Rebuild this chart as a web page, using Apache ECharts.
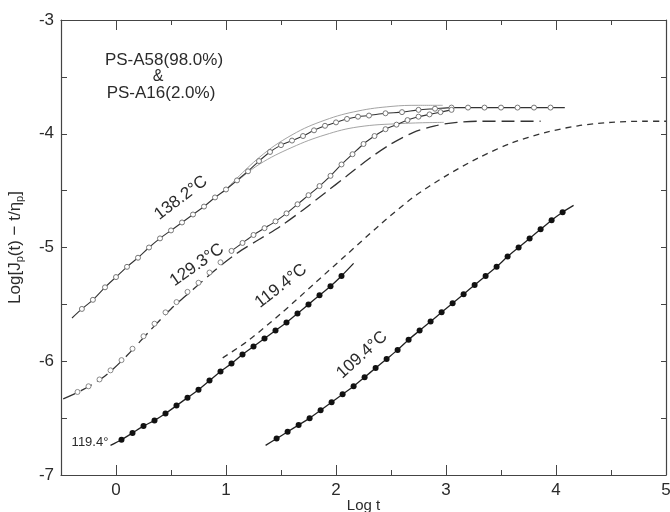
<!DOCTYPE html>
<html><head><meta charset="utf-8">
<script src="https://cdn.jsdelivr.net/npm/echarts@6/dist/echarts.min.js"></script>
<style>html,body{margin:0;padding:0;background:#fff}#c{width:670px;height:512px}</style>
</head><body><div id="c"></div>
<script>
// ---- data ----
const xTickLabels = [0, 1, 2, 3, 4, 5];
const yTickLabels = [-7, -6, -5, -4, -3];

// 138.2 °C : solid line, open circles
const start1382 = [-0.40, -5.62];
const end1382 = [4.08, -3.77];
const pts1382 = [[-0.31,-5.54],[-0.21,-5.46],[-0.10,-5.35],[0.00,-5.26],[0.10,-5.17],[0.20,-5.09],[0.30,-5.00],[0.40,-4.92],[0.50,-4.85],[0.60,-4.78],[0.70,-4.71],[0.80,-4.64],[0.90,-4.56],[1.00,-4.49],[1.10,-4.41],[1.20,-4.33],[1.30,-4.24],[1.40,-4.16],[1.50,-4.10],[1.60,-4.06],[1.70,-4.02],[1.80,-3.97],[1.90,-3.93],[2.00,-3.90],[2.10,-3.87],[2.20,-3.85],[2.30,-3.84],[2.45,-3.82],[2.60,-3.81],[2.75,-3.79],[2.90,-3.78],[3.05,-3.77],[3.20,-3.77],[3.35,-3.77],[3.50,-3.77],[3.65,-3.77],[3.80,-3.77],[3.95,-3.77]];
// thin companion curves near the 138.2 plateau
const upperThin = [[1.0,-4.49],[1.3,-4.21],[1.6,-4.01],[1.9,-3.88],[2.2,-3.80],[2.5,-3.76],[2.75,-3.75],[2.97,-3.75]];
const lowerThin = [[1.1,-4.42],[1.3,-4.27],[1.6,-4.12],[1.9,-4.01],[2.2,-3.94],[2.6,-3.91],[2.98,-3.90]];

// 129.3 °C : open circles (lower part on dashed line, upper part solid)
const pts1293Low = [[-0.35,-6.27],[-0.25,-6.22],[-0.15,-6.16],[-0.05,-6.08],[0.05,-5.99],[0.15,-5.89],[0.25,-5.78],[0.35,-5.67],[0.45,-5.57],[0.55,-5.48],[0.65,-5.39],[0.75,-5.31],[0.85,-5.22],[0.95,-5.13]];
const pts1293High = [[1.05,-5.03],[1.15,-4.96],[1.25,-4.89],[1.35,-4.83],[1.45,-4.77],[1.55,-4.70],[1.65,-4.62],[1.75,-4.54],[1.85,-4.46],[1.95,-4.37],[2.05,-4.27],[2.15,-4.18],[2.25,-4.09],[2.35,-4.02],[2.45,-3.96],[2.55,-3.92],[2.65,-3.88],[2.75,-3.85],[2.85,-3.83],[2.95,-3.81],[3.05,-3.79]];
// long-dash curve (129.3 region)
const longDash = [[-0.48,-6.33],[-0.3,-6.25],[-0.1,-6.13],[0.1,-5.95],[0.3,-5.74],[0.5,-5.54],[0.7,-5.37],[0.9,-5.20],[1.1,-5.05],[1.3,-4.93],[1.5,-4.81],[1.7,-4.67],[1.9,-4.52],[2.1,-4.37],[2.3,-4.22],[2.5,-4.09],[2.7,-3.99],[2.9,-3.93],[3.1,-3.90],[3.3,-3.89],[3.6,-3.89],[3.86,-3.89]];
// short-dash curve (119.4 region up to the plateau at 5)
const shortDash = [[0.97,-5.97],[1.2,-5.82],[1.5,-5.58],[1.8,-5.32],[2.1,-5.06],[2.4,-4.80],[2.7,-4.56],[3.0,-4.37],[3.3,-4.21],[3.6,-4.08],[3.9,-3.99],[4.2,-3.93],[4.5,-3.90],[4.8,-3.89],[5.0,-3.89]];

// 119.4 °C : solid line, filled circles
const start1194 = [-0.05, -6.74];
const end1194 = [2.16, -5.14];
const pts1194 = [[0.05,-6.69],[0.15,-6.63],[0.25,-6.57],[0.35,-6.52],[0.45,-6.46],[0.55,-6.39],[0.65,-6.32],[0.75,-6.25],[0.85,-6.17],[0.95,-6.09],[1.05,-6.02],[1.15,-5.94],[1.25,-5.87],[1.35,-5.80],[1.45,-5.73],[1.55,-5.66],[1.65,-5.58],[1.75,-5.50],[1.85,-5.42],[1.95,-5.34],[2.05,-5.25]];

// 109.4 °C : solid line, filled circles
const start1094 = [1.36, -6.74];
const end1094 = [4.16, -4.63];
const pts1094 = [[1.46,-6.68],[1.56,-6.62],[1.66,-6.56],[1.76,-6.50],[1.86,-6.43],[1.96,-6.36],[2.06,-6.29],[2.16,-6.22],[2.26,-6.14],[2.36,-6.06],[2.46,-5.98],[2.56,-5.90],[2.66,-5.81],[2.76,-5.73],[2.86,-5.65],[2.96,-5.57],[3.06,-5.49],[3.16,-5.41],[3.26,-5.33],[3.36,-5.25],[3.46,-5.17],[3.56,-5.08],[3.66,-5.00],[3.76,-4.92],[3.86,-4.84],[3.96,-4.76],[4.06,-4.69]];

// ---- chart ----
const FONT = '"Liberation Sans", Arial, sans-serif';
const INK = '#2b2b2b';
const chart = echarts.init(document.getElementById('c'), null, {renderer: 'canvas'});

function lineWith(startPt, pts, endPt) {
  return [{value: startPt, symbol: 'none'}].concat(pts.map(p => ({value: p}))).concat([{value: endPt, symbol: 'none'}]);
}
const axisLine = {show: true, onZero: false, lineStyle: {color: '#444', width: 1.2}};
const noLine = {show: false, onZero: false};
const fmtY = v => (Number.isInteger(v) ? ('-' + Math.abs(v)) : '');
const fmtX = v => (Number.isInteger(v) && v >= 0 ? String(v) : '');

const option = {
  animation: false,
  backgroundColor: '#fff',
  grid: {left: 61, right: 4, top: 20, bottom: 37, containLabel: false, outerBoundsMode: 'none'},
  xAxis: [
    {type: 'value', position: 'bottom', min: -0.5, max: 5, interval: 0.5,
     axisLine, splitLine: {show: false},
     axisTick: {show: true, inside: true, length: 5, lineStyle: {color: '#444'}},
     axisLabel: {formatter: fmtX, fontSize: 17, color: INK, fontFamily: FONT, margin: 7},
     name: 'Log t', nameLocation: 'middle', nameGap: 23, nameMoveOverlap: false,
     nameTextStyle: {fontSize: 15, color: INK, fontFamily: FONT}},
    {type: 'value', position: 'bottom', min: -0.5, max: 5,
     axisLine: noLine, splitLine: {show: false}, axisLabel: {show: false},
     axisTick: {show: true, inside: true, length: 10, customValues: xTickLabels, lineStyle: {color: '#444'}}},
    {type: 'value', position: 'top', min: -0.5, max: 5, interval: 0.5,
     axisLine, splitLine: {show: false}, axisLabel: {show: false},
     axisTick: {show: true, inside: true, length: 5, lineStyle: {color: '#444'}}},
    {type: 'value', position: 'top', min: -0.5, max: 5,
     axisLine: noLine, splitLine: {show: false}, axisLabel: {show: false},
     axisTick: {show: true, inside: true, length: 10, customValues: xTickLabels, lineStyle: {color: '#444'}}}
  ],
  yAxis: [
    {type: 'value', position: 'left', min: -7, max: -3, interval: 0.5,
     axisLine, splitLine: {show: false},
     axisTick: {show: true, inside: true, length: 6, lineStyle: {color: '#444'}},
     axisLabel: {formatter: fmtY, fontSize: 17, color: INK, fontFamily: FONT, margin: 7},
     name: 'Log[J{s|p}(t) − t/η{s|p}]', nameLocation: 'middle', nameGap: 36, nameRotate: 90,
     nameMoveOverlap: false,
     nameTextStyle: {fontSize: 17, color: INK, fontFamily: FONT,
       rich: {s: {fontSize: 11, color: INK, fontFamily: FONT, padding: [8, 0, 0, 0]}}}},
    {type: 'value', position: 'right', min: -7, max: -3, interval: 0.5,
     axisLine, splitLine: {show: false}, axisLabel: {show: false},
     axisTick: {show: true, inside: true, length: 5, lineStyle: {color: '#444'}}}
  ],
  series: [
    {type: 'line', name: 'longDash', data: longDash, smooth: 0.3, showSymbol: false,
     lineStyle: {color: '#333', width: 1.3, type: [13, 6]}},
    {type: 'line', name: 'shortDash', data: shortDash, smooth: 0.3, showSymbol: false,
     lineStyle: {color: '#333', width: 1.3, type: [6, 5]}},
    {type: 'line', name: 'upperThin', data: upperThin, smooth: 0.4, showSymbol: false,
     lineStyle: {color: '#999', width: 0.9}},
    {type: 'line', name: 'lowerThin', data: lowerThin, smooth: 0.4, showSymbol: false,
     lineStyle: {color: '#999', width: 0.9}},
    {type: 'line', name: '138.2', data: lineWith(start1382, pts1382, end1382), smooth: 0.3,
     symbol: 'circle', symbolSize: 5, showAllSymbol: true,
     lineStyle: {color: '#333', width: 1.1},
     itemStyle: {color: '#fff', borderColor: '#777', borderWidth: 1}},
    {type: 'line', name: '129.3 low', data: pts1293Low, smooth: 0.3,
     symbol: 'circle', symbolSize: 5, showAllSymbol: true,
     lineStyle: {width: 0, opacity: 0},
     itemStyle: {color: '#fff', borderColor: '#888', borderWidth: 1}},
    {type: 'line', name: '129.3 high', data: pts1293High, smooth: 0.3,
     symbol: 'circle', symbolSize: 5, showAllSymbol: true,
     lineStyle: {color: '#333', width: 1.1},
     itemStyle: {color: '#fff', borderColor: '#777', borderWidth: 1}},
    {type: 'line', name: '119.4', data: lineWith(start1194, pts1194, end1194), smooth: 0.3,
     symbol: 'circle', symbolSize: 6, showAllSymbol: true,
     lineStyle: {color: '#222', width: 1.3},
     itemStyle: {color: '#111', borderColor: '#111', borderWidth: 0}},
    {type: 'line', name: '109.4', data: lineWith(start1094, pts1094, end1094), smooth: 0.3,
     symbol: 'circle', symbolSize: 6, showAllSymbol: true,
     lineStyle: {color: '#222', width: 1.3},
     itemStyle: {color: '#111', borderColor: '#111', borderWidth: 0}}
  ],
  graphic: [
    {type: 'text', x: 181, y: 198, rotation: 37 * Math.PI / 180,
     style: {text: '138.2°C', fontSize: 17, fill: INK, fontFamily: FONT, align: 'center', verticalAlign: 'middle'}},
    {type: 'text', x: 197, y: 265, rotation: 35 * Math.PI / 180,
     style: {text: '129.3°C', fontSize: 17, fill: INK, fontFamily: FONT, align: 'center', verticalAlign: 'middle'}},
    {type: 'text', x: 281, y: 286, rotation: 38 * Math.PI / 180,
     style: {text: '119.4°C', fontSize: 17, fill: INK, fontFamily: FONT, align: 'center', verticalAlign: 'middle'}},
    {type: 'text', x: 362, y: 355, rotation: 42 * Math.PI / 180,
     style: {text: '109.4°C', fontSize: 17, fill: INK, fontFamily: FONT, align: 'center', verticalAlign: 'middle'}},
    {type: 'text', x: 90, y: 442,
     style: {text: '119.4°', fontSize: 13, fill: INK, fontFamily: FONT, align: 'center', verticalAlign: 'middle'}},
    {type: 'text', x: 164, y: 60,
     style: {text: 'PS-A58(98.0%)', fontSize: 17, fill: INK, fontFamily: FONT, align: 'center', verticalAlign: 'middle'}},
    {type: 'text', x: 158, y: 77,
     style: {text: '&', fontSize: 16, fill: INK, fontFamily: FONT, align: 'center', verticalAlign: 'middle'}},
    {type: 'text', x: 161, y: 93,
     style: {text: 'PS-A16(2.0%)', fontSize: 17, fill: INK, fontFamily: FONT, align: 'center', verticalAlign: 'middle'}}
  ]
};
chart.setOption(option);
</script>
</body></html>
